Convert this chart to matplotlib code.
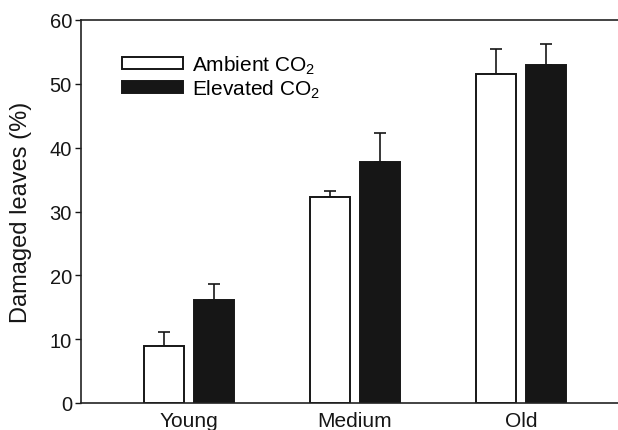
import matplotlib
matplotlib.use("Agg")
import matplotlib.pyplot as plt
import numpy as np

categories = ["Young", "Medium", "Old"]
ambient = [9.0, 32.3, 51.5]
ambient_err = [2.1, 0.9, 4.0]
elevated = [16.1, 37.8, 52.9]
elevated_err = [2.6, 4.5, 3.4]
yticks = [0, 10, 20, 30, 40, 50, 60]

plt.rcParams['font.family'] = ['Liberation Sans', 'DejaVu Sans']

W, H = 618, 431
fig = plt.figure(figsize=(W / 100, H / 100), dpi=100)
left, right, top, bottom = 81, 629, 21, 404
ax = fig.add_axes([left / W, (H - bottom) / H, (right - left) / W, (bottom - top) / H])

x = np.arange(len(categories))
bw = 0.245
off = 0.15
dark = '#161616'
ax.bar(x - off, ambient, bw, color='white', edgecolor=dark, linewidth=1.4,
       label=r'Ambient CO$\mathregular{_2}$', zorder=2)
ax.bar(x + off, elevated, bw, color=dark, edgecolor=dark, linewidth=1.4,
       label=r'Elevated CO$\mathregular{_2}$', zorder=2)
ax.errorbar(x - off, ambient, yerr=[np.zeros(3), ambient_err], fmt='none',
            ecolor=dark, elinewidth=1.2, capsize=4.3, capthick=1.2, zorder=1)
ax.errorbar(x + off, elevated, yerr=[np.zeros(3), elevated_err], fmt='none',
            ecolor=dark, elinewidth=1.2, capsize=4.3, capthick=1.2, zorder=1)

ax.set_xlim(-0.65, 2.65)
ax.set_ylim(0, 60)
ax.set_yticks(yticks)
ax.set_xticks(x)
ax.set_xticklabels(categories)
ax.tick_params(axis='y', direction='out', length=4.5, width=1.0, pad=2,
               labelsize=14.5, colors='#161616')
ax.tick_params(axis='x', length=0, pad=6, labelsize=15, colors='#161616')
for s in ax.spines.values():
    s.set_linewidth(1.2)
    s.set_color('#222222')
ax.spines['right'].set_visible(False)
ax.set_ylabel('Damaged leaves (%)', fontsize=17, color='#161616')
ax.yaxis.set_label_coords(-0.089, 0.5)

leg = ax.legend(loc='upper left', bbox_to_anchor=(0.075, 0.913), frameon=False,
                fontsize=15, handlelength=2.93, handleheight=0.48,
                handletextpad=0.43, labelspacing=0.1, borderaxespad=0,
                borderpad=0)

fig.savefig('out.png', dpi=100)
